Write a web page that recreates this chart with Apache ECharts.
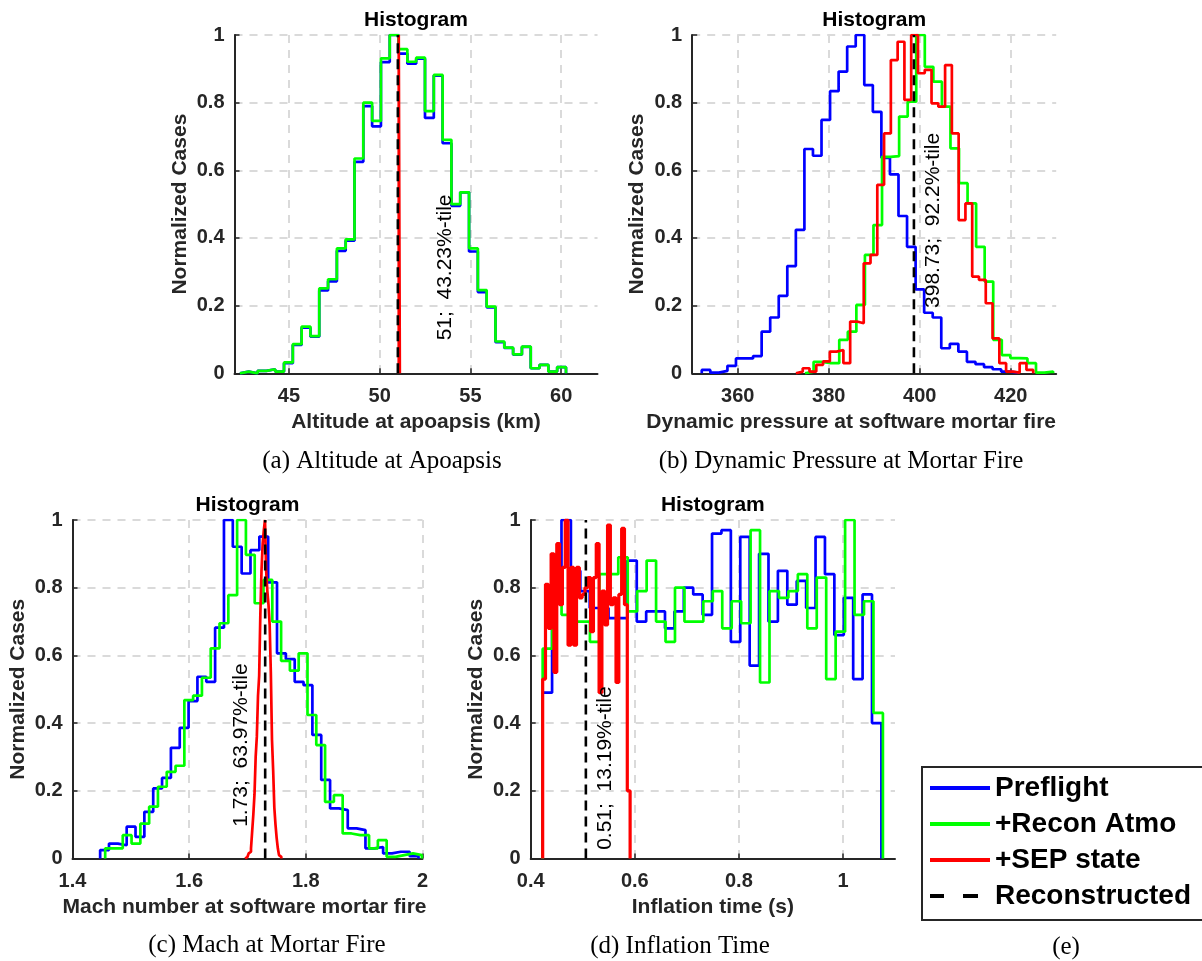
<!DOCTYPE html>
<html>
<head>
<meta charset="utf-8">
<script src="https://cdn.jsdelivr.net/npm/echarts@6/dist/echarts.min.js"></script>
<style>
html,body{margin:0;padding:0;background:#ffffff;}
#chart{width:1202px;height:961px;}
</style>
</head>
<body>
<div id="chart"></div>
<script>
// ================= DATA =================
const legendNames = ['Preflight', '+Recon Atmo', '+SEP state', 'Reconstructed'];

// (a) Altitude at apoapsis (km)
const altTicks = [45, 50, 55, 60];
const altPreflightStart = 42.3, altPreflightBin = 0.4855;
const altPreflight = [0.005,0,0.007,0.012,0.005,0.03,0.084,0.135,0.108,0.245,0.272,0.362,0.392,0.625,0.79,0.73,0.92,1.0,0.945,0.915,0.93,0.755,0.88,0.68,0.495,0.535,0.36,0.24,0.195,0.092,0.075,0.055,0.078,0.015,0.025,0.005,0.018];
const altReconStart = 42.3, altReconBin = 0.4855;
const altRecon = [0.005,0,0.007,0.012,0.005,0.032,0.086,0.138,0.11,0.251,0.278,0.369,0.396,0.635,0.8,0.746,0.931,1.0,0.958,0.921,0.933,0.775,0.882,0.69,0.5,0.535,0.369,0.246,0.197,0.094,0.076,0.056,0.079,0.015,0.025,0.005,0.018];
const altSepStart = 51.05, altSepBin = 0.06;
const altSep = [1.0];
const altReconstructed = 51.0;
const altNote = '51;  43.23%-tile';
const altNotePos = [53.6, 0.313];

// (b) Dynamic pressure at software mortar fire
const dynTicks = [360, 380, 400, 420];
const dynPreflightStart = 352.1, dynPreflightBin = 1.88;
const dynPreflight = [0.01,0.002,0.007,0.022,0.044,0.044,0.051,0.123,0.165,0.229,0.317,0.424,0.663,0.643,0.749,0.834,0.892,0.966,1.0,0.852,0.773,0.637,0.588,0.465,0.374,0.248,0.179,0.165,0.074,0.087,0.064,0.034,0.027,0.018,0.012,0.005,0.002];
const dynReconStart = 374.8, dynReconBin = 1.88;
const dynRecon = [0.005,0.034,0.03,0.03,0.099,0.123,0.202,0.35,0.438,0.64,0.642,0.759,0.803,1.0,0.906,0.862,0.788,0.665,0.562,0.502,0.374,0.271,0.099,0.054,0.045,0.044,0.03,0.002,0.005];
const dynSepStart = 372.8, dynSepBin = 1.49;
const dynSep = [0.005,0.015,0.005,0.025,0.035,0.064,0.069,0.03,0.153,0.148,0.325,0.35,0.557,0.709,0.926,0.98,0.808,1.0,0.887,0.897,0.798,0.788,0.911,0.709,0.453,0.502,0.286,0.276,0.207,0.103,0.03,0.005,0.002,0.03,0.01];
const dynReconstructed = 398.73;
const dynNote = '398.73;  92.2%-tile';
const dynNotePos = [402.9, 0.452];

// (c) Mach number at software mortar fire
const machTicks = [1.4, 1.6, 1.8, 2];
const machPreflightStart = 1.4474, machPreflightBin = 0.01516;
const machPreflight = [0.025,0.044,0.039,0.094,0.064,0.138,0.207,0.238,0.327,0.386,0.465,0.537,0.522,0.682,1.0,0.921,0.842,0.911,0.951,0.816,0.606,0.589,0.522,0.512,0.365,0.232,0.148,0.143,0.089,0.084,0.03,0.034,0.015,0.02,0.02,0.007];
const machReconStart = 1.456, machReconBin = 0.01508;
const machRecon = [0.03,0.03,0.069,0.044,0.103,0.153,0.212,0.256,0.274,0.468,0.481,0.534,0.621,0.695,0.778,1.0,0.897,0.754,0.823,0.7,0.584,0.555,0.606,0.424,0.335,0.167,0.187,0.074,0.069,0.069,0.03,0.054,0.005,0.01,0.015,0.01];
const machSepStart = 1.696, machSepBin = 0.002;
const machSep = [0.002,0.005,0.01,0.015,0.02,0.03,0.08,0.13,0.19,0.3,0.36,0.48,0.54,0.72,0.85,0.93,0.97,1.0,0.85,0.79,0.75,0.69,0.55,0.35,0.26,0.15,0.1,0.06,0.03,0.01,0.005];
const machReconstructed = 1.7303;
const machNote = '1.73;  63.97%-tile';
const machNotePos = [1.69, 0.335];

// (d) Inflation time (s)
const infTicks = [0.4, 0.6, 0.8, 1];
const infPreflightStart = 0.423, infPreflightBin = 0.01808;
const infPreflight = [0.49,0.8,1.0,0.85,0.79,0.74,0.74,0.71,0.71,0.88,0.70,0.73,0.73,0.68,0.73,0.80,0.78,0.72,0.96,0.97,0.64,0.95,0.57,0.90,0.70,0.85,0.75,0.82,0.74,0.95,0.84,0.66,0.77,0.53,0.78,0.40];
const infReconStart = 0.423, infReconBin = 0.01816;
const infRecon = [0.62,0.78,0.72,0.70,0.70,0.64,0.84,0.84,0.89,0.73,0.79,0.88,0.70,0.64,0.80,0.70,0.70,0.76,0.79,0.68,0.76,0.695,0.97,0.52,0.79,0.77,0.79,0.84,0.68,0.83,0.53,0.67,1.0,0.72,0.76,0.43];
const infSepStart = 0.423, infSepBin = 0.00542;
const infSep = [0.53,0.81,0.68,0.9,0.55,0.93,0.75,0.86,1.0,0.63,0.86,0.63,0.86,0.77,0.78,0.8,0.83,0.67,0.83,0.93,0.49,0.79,0.69,0.985,0.75,0.77,0.52,0.78,0.975,0.75,0.2];
const infReconstructed = 0.506;
const infNote = '0.51;  13.19%-tile';
const infNotePos = [0.543, 0.267];

const captions = ['(a) Altitude at Apoapsis', '(b) Dynamic Pressure at Mortar Fire', '(c) Mach at Mortar Fire', '(d) Inflation Time', '(e)'];
const xNames = ['Altitude at apoapsis (km)', 'Dynamic pressure at software mortar fire', 'Mach number at software mortar fire', 'Inflation time (s)'];

// ================= BUILD =================
const FONT = '"Liberation Sans", Arial, Helvetica, sans-serif';
const SERIF = '"Liberation Serif", "Times New Roman", serif';
const AX = '#262626';
const GRIDC = '#dadada';
const COLORS = {'Preflight': '#0000ff', '+Recon Atmo': '#00ff00', '+SEP state': '#ff0000', 'Reconstructed': '#000000'};

function stairs(start, width, values) {
  const pts = [[start, 0]];
  values.forEach((v, i) => pts.push([start + i * width, v]));
  pts.push([start + values.length * width, 0]);
  return pts;
}

const panels = [
  {grid: {left: 234.5, top: 35, width: 363, height: 338.3}, min: 42, max: 62, ticks: altTicks,
   pre: stairs(altPreflightStart, altPreflightBin, altPreflight),
   rec: stairs(altReconStart, altReconBin, altRecon),
   sep: stairs(altSepStart, altSepBin, altSep),
   recon: altReconstructed, note: altNote, notePos: altNotePos, sepWidth: 2.7, xNamePad: 0},
  {grid: {left: 692.2, top: 35, width: 364, height: 338.3}, min: 350, max: 430, ticks: dynTicks,
   pre: stairs(dynPreflightStart, dynPreflightBin, dynPreflight),
   rec: stairs(dynReconStart, dynReconBin, dynRecon),
   sep: stairs(dynSepStart, dynSepBin, dynSep),
   recon: dynReconstructed, note: dynNote, notePos: dynNotePos, sepWidth: 2.7, xNamePad: 46},
  {grid: {left: 72.5, top: 520, width: 350, height: 338.5}, min: 1.4, max: 2, ticks: machTicks,
   pre: stairs(machPreflightStart, machPreflightBin, machPreflight),
   rec: stairs(machReconStart, machReconBin, machRecon),
   sep: stairs(machSepStart, machSepBin, machSep),
   recon: machReconstructed, note: machNote, notePos: machNotePos, sepWidth: 2.7, xNamePad: 6},
  {grid: {left: 530.7, top: 520, width: 364.3, height: 338.5}, min: 0.4, max: 1.1, ticks: infTicks,
   pre: stairs(infPreflightStart, infPreflightBin, infPreflight),
   rec: stairs(infReconStart, infReconBin, infRecon),
   sep: stairs(infSepStart, infSepBin, infSep),
   recon: infReconstructed, note: infNote, notePos: infNotePos, sepWidth: 3.2, xNamePad: 0}
];

const grids = [], xAxes = [], yAxes = [], series = [], graphics = [];

panels.forEach((p, i) => {
  grids.push(Object.assign({containLabel: false}, p.grid));
  xAxes.push({
    gridIndex: i, type: 'value', min: p.min, max: p.max,
    axisLine: {show: true, onZero: false, lineStyle: {color: AX, width: 2}},
    axisTick: {show: true, inside: true, length: 5, customValues: p.ticks, lineStyle: {color: AX, width: 1.5}},
    axisLabel: {customValues: p.ticks, fontSize: 20, fontWeight: 'bold', color: AX, margin: 13, fontFamily: FONT},
    splitLine: {show: true, lineStyle: {color: GRIDC, width: 2, type: [8, 7]}},
    name: xNames[i], nameLocation: 'middle', nameGap: 38,
    nameTextStyle: {fontSize: 21, fontWeight: 'bold', color: AX, fontFamily: FONT, padding: [0, p.xNamePad, 0, 0]}
  });
  yAxes.push({
    gridIndex: i, type: 'value', min: 0, max: 1, interval: 0.2,
    axisLine: {show: true, onZero: false, lineStyle: {color: AX, width: 2}},
    axisTick: {show: true, inside: true, length: 5, lineStyle: {color: AX, width: 1.5}},
    axisLabel: {fontSize: 20, fontWeight: 'bold', color: AX, margin: 10, fontFamily: FONT},
    splitLine: {show: true, lineStyle: {color: GRIDC, width: 2, type: [8, 7]}},
    name: 'Normalized Cases', nameLocation: 'middle', nameGap: 44,
    nameTextStyle: {fontSize: 21, fontWeight: 'bold', color: AX, fontFamily: FONT}
  });
  const mk = (name, data, width) => ({
    name, type: 'line', xAxisIndex: i, yAxisIndex: i, data, step: 'end',
    symbol: 'none', showSymbol: false, silent: true,
    itemStyle: {color: COLORS[name]},
    lineStyle: {color: COLORS[name], width: width},
    z: 3
  });
  series.push(mk('Preflight', p.pre, 2.7));
  series.push(mk('+Recon Atmo', p.rec, 2.7));
  series.push(mk('+SEP state', p.sep, p.sepWidth));
  series.push({
    name: 'Reconstructed', type: 'line', xAxisIndex: i, yAxisIndex: i,
    data: [[p.recon, 0], [p.recon, 1]], symbol: 'none', silent: true,
    itemStyle: {color: '#000'},
    lineStyle: {color: '#000', width: 2.6, type: [10, 6]}, z: 4
  });
  series.push({
    type: 'scatter', xAxisIndex: i, yAxisIndex: i, data: [p.notePos],
    symbolSize: 1, itemStyle: {color: 'rgba(0,0,0,0)', opacity: 1}, silent: true, z: 5,
    label: {show: true, formatter: p.note, position: 'inside', rotate: 90, opacity: 1,
            fontSize: 21, color: '#000', fontFamily: FONT}
  });
  // title
  graphics.push({type: 'text', x: p.grid.left + p.grid.width / 2, y: p.grid.top - 15,
    style: {text: 'Histogram', fontSize: 21, fontWeight: 'bold', fontFamily: FONT, fill: '#000',
            align: 'center', verticalAlign: 'middle'}});
});

const capPos = [[382, 461], [841, 461], [267, 945], [680, 946], [1066, 947]];
captions.forEach((c, i) => {
  graphics.push({type: 'text', x: capPos[i][0], y: capPos[i][1],
    style: {text: c, fontSize: 25, fontFamily: SERIF, fill: '#000', align: 'center', verticalAlign: 'middle'}});
});

const chart = echarts.init(document.getElementById('chart'), null, {renderer: 'canvas'});
chart.setOption({
  animation: false,
  backgroundColor: '#ffffff',
  textStyle: {fontFamily: FONT},
  grid: grids,
  xAxis: xAxes,
  yAxis: yAxes,
  series: series,
  legend: {
    data: [
      {name: 'Preflight', icon: 'rect'},
      {name: '+Recon Atmo', icon: 'rect'},
      {name: '+SEP state', icon: 'rect'},
      {name: 'Reconstructed', icon: 'path://M0,0h14v4h-14zM33,0h15v4h-15zM60,4'}
    ],
    orient: 'vertical', left: 922, top: 767,
    itemWidth: 60, itemHeight: 4, itemGap: 8,
    padding: [7, 14, 10, 8],
    backgroundColor: '#ffffff', borderColor: AX, borderWidth: 2,
    textStyle: {fontSize: 28, fontWeight: 'bold', color: '#000', fontFamily: FONT},
    selectedMode: false
  },
  graphic: graphics
});
</script>
</body>
</html>
